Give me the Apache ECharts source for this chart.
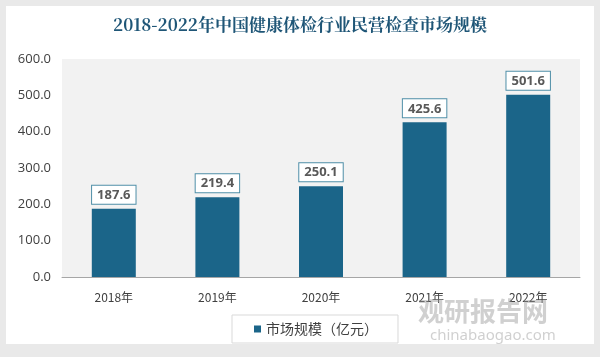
<!DOCTYPE html>
<html><head><meta charset="utf-8">
<script src="https://cdn.jsdelivr.net/npm/echarts@6/dist/echarts.min.js"></script>
<style>html,body{margin:0;padding:0;background:#e9e9e9;}#c{width:600px;height:357px;}</style>
</head><body><div id="c"></div>
<script>
const categories = ['2018年','2019年','2020年','2021年','2022年'];
const values = [187.6, 219.4, 250.1, 425.6, 501.6];
const seriesName = '市场规模（亿元）';
const titleText = '2018-2022年中国健康体检行业民营检查市场规模';

const chart = echarts.init(document.getElementById('c'), null, {renderer:'canvas'});
chart.setOption({
  backgroundColor: '#e9e9e9',
  graphic: [
    {type:'rect', shape:{x:6,y:6,width:588,height:338}, style:{fill:'#ffffff'}, z:-10, silent:true},
    {type:'text', left:418, top:298, style:{text:'观研报告网', fill:'rgba(150,150,150,0.45)', font:'bold 26px "Noto Sans CJK SC"'}, z:100},
    {type:'text', left:430, top:328, style:{text:'chinabaogao.com', fill:'rgba(150,150,150,0.45)', font:'15px "Noto Sans"'}, z:100}
  ],
  title: {
    text: titleText, left: 'center', top: 11,
    textStyle: {fontFamily:'"Noto Serif CJK SC","Noto Sans CJK SC",serif', fontWeight:'bold', fontSize:17, color:'#1f5677'}
  },
  legend: {
    bottom: 14, left: 232,
    data: [seriesName],
    icon: 'rect', itemWidth: 7, itemHeight: 7, itemGap: 4,
    padding: [7, 20, 7, 22],
    borderColor: '#d9d9d9', borderWidth: 1, backgroundColor: '#ffffff',
    textStyle: {fontFamily:'"Noto Sans CJK SC"', fontSize: 14, color:'#404040'}
  },
  grid: {left: 62, right: 20, top: 59, bottom: 80, show: true, backgroundColor:'#f2f2f2', borderWidth: 0},
  xAxis: {
    type: 'category', data: categories,
    axisLine: {lineStyle:{color:'#a6a6a6'}},
    axisTick: {show:false},
    axisLabel: {color:'#404040', fontSize:12, fontFamily:'"Noto Sans CJK SC"', margin: 14}
  },
  yAxis: {
    type: 'value', min: 0, max: 600, interval: 100,
    axisLine:{show:false}, axisTick:{show:false}, splitLine:{show:false},
    axisLabel: {color:'#404040', fontSize:13, fontFamily:'"Open Sans"', formatter: v => v.toFixed(1), margin: 11}
  },
  series: [{
    name: seriesName, type: 'bar', data: values, barWidth: 44,
    itemStyle: {color:'#1b6589'},
    label: {
      show: true, position: 'top', distance: 5,
      formatter: p => p.value.toFixed(1),
      color:'#595959', fontWeight:'bold', fontSize:13, fontFamily:'"Open Sans"',
      backgroundColor:'#ffffff', borderColor:'#4f8fa8', borderWidth:1, padding:[3,5,2,5]
    }
  }]
});
</script></body></html>
